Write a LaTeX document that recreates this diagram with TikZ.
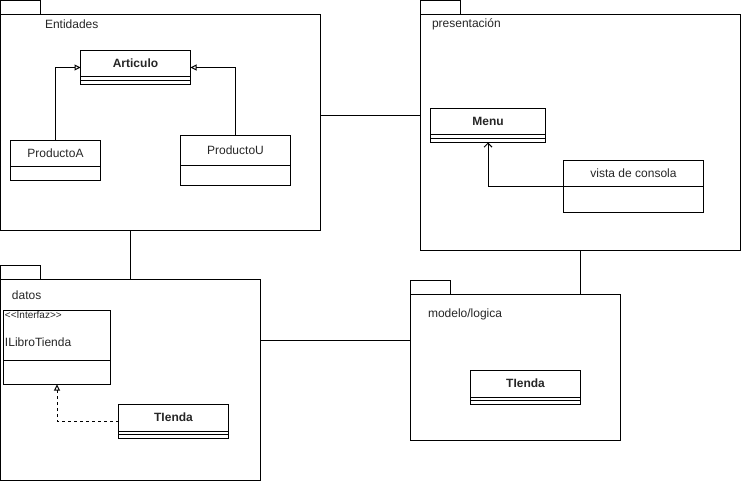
\documentclass[tikz,border=0pt]{standalone}
\usepackage{fontspec}
\setmainfont{Liberation Sans}
\usetikzlibrary{arrows.meta,positioning}
\tikzset{
  pkg/.style={draw, rectangle, inner sep=0pt, outer sep=0pt, anchor=north west},
  cls/.style={draw, rectangle, inner sep=0pt, outer sep=0pt, anchor=north west},
  txt/.style={inner sep=0pt, text=black!85, font=\fontsize{12}{14}\selectfont},
  title/.style={txt, font=\fontsize{12}{14}\selectfont\bfseries},
  inherit/.style={-{Triangle[open,length=6pt,width=6pt]}},
  uses/.style={-{Straight Barb[length=4pt,width=8pt]}},
}

\begin{document}
\begin{tikzpicture}[x=1pt,y=-1pt,line width=1pt]
    \useasboundingbox (-0.5,-0.5) rectangle (740.5,480.5);
    % set coordinates
    \coordinate (h1) at (0,115);
    \coordinate (h2) at (0,340);
    \coordinate (v1) at (130,0);
    \coordinate (v2) at (580,0);
    % packages
    \node [pkg, minimum width=320pt, minimum height=216pt] (ent) at (0,14) {};
    \draw (0,14) -- (0,0) -- (40,0) -- (40,14);
    \node [pkg, minimum width=320pt, minimum height=236pt] (pres) at (420,14) {};
    \draw (420,14) -- (420,0) -- (460,0) -- (460,14);
    \node [pkg, minimum width=260pt, minimum height=201pt] (datos) at (0,279) {};
    \draw (0,279) -- (0,265) -- (40,265) -- (40,279);
    \node [pkg, minimum width=210pt, minimum height=146pt] (modelo) at (410,294) {};
    \draw (410,294) -- (410,280) -- (450,280) -- (450,294);
    % classes
    \node [cls, minimum width=110pt, minimum height=34pt] (articulo) at (80,50) {};
    \draw (80,76.5) -- (190,76.5);
    \draw (80,80.3) -- (190,80.3);
    \node [cls, minimum width=90pt, minimum height=40pt] (prodA) at (10,140) {};
    \draw (10,166) -- (100,166);
    \node [cls, minimum width=110pt, minimum height=50pt] (prodU) at (180,135) {};
    \draw (180,165) -- (290,165);
    \node [cls, minimum width=115pt, minimum height=34pt] (menu) at (430,108) {};
    \draw (430,134.5) -- (545,134.5);
    \draw (430,138.3) -- (545,138.3);
    \node [cls, minimum width=140pt, minimum height=52pt] (vista) at (563,160) {};
    \draw (563,186) -- (703,186);
    \node [cls, minimum width=107pt, minimum height=74pt] (iface) at (3,310) {};
    \draw (3,360) -- (110,360);
    \node [cls, minimum width=110pt, minimum height=34pt] (tiendaD) at (118,404) {};
    \draw (118,430.5) -- (228,430.5);
    \draw (118,434.3) -- (228,434.3);
    \node [cls, minimum width=110pt, minimum height=34pt] (tiendaM) at (470,370) {};
    \draw (470,396.5) -- (580,396.5);
    \draw (470,400.3) -- (580,400.3);
    % connectors
    \draw (ent.east |- h1) -- (pres.west |- h1);
    \draw (ent.south -| v1) -- (datos.north -| v1);
    \draw (pres.south -| v2) -- (modelo.north -| v2);
    \draw (datos.east |- h2) -- (modelo.west |- h2);
    \draw [inherit] (prodA.north) |- (articulo.west);
    \draw [inherit] (prodU.north) |- (articulo.east);
    \draw [uses] (vista.west) -| (menu.south);
    \draw [inherit, dashed] (tiendaD.west) -| (iface.south);
    % add labels
    \node [txt, anchor=west] (lEnt) at (44,24) {Entidades};
    \node [txt, anchor=west] (lPres) at (431,24) {presentación};
    \node [txt, anchor=west] (lDatos) at (11,295) {datos};
    \node [txt, anchor=west] (lModelo) at (427,314) {modelo/logica};
    \node [title] (tArt) at (135,63) {Articulo};
    \node [txt] (tProdA) at (55,153) {ProductoA};
    \node [txt] (tProdU) at (235,150) {ProductoU};
    \node [title] (tMenu) at (487.5,121) {Menu};
    \node [txt] (tVista) at (633,173) {vista de consola};
    \node [txt, anchor=west, font=\fontsize{10}{11}\selectfont] (tStereo) at (4,314) {{<}{<}Interfaz{>}{>}};
    \node [txt, anchor=west] (tIface) at (4,342) {ILibroTienda};
    \node [title] (tTiendaD) at (173,417) {TIenda};
    \node [title] (tTiendaM) at (525,383) {TIenda};
\end{tikzpicture}
\end{document}
